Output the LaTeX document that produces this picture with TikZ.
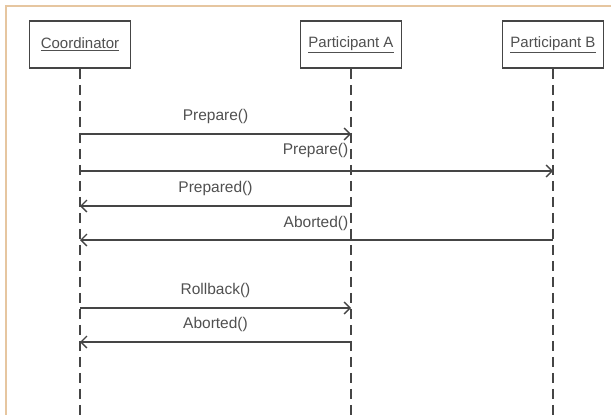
\documentclass[tikz,border=0pt]{standalone}
\usepackage{fontspec}
\setmainfont{Liberation Sans}
\usetikzlibrary{arrows.meta}
\definecolor{framecol}{HTML}{E6C6A0}
\definecolor{ink}{HTML}{454545}
\definecolor{txtcol}{HTML}{505050}
\begin{document}
\begin{tikzpicture}[x=1pt,y=-1pt,
  actor/.style={draw=ink,line width=1.5pt,fill=white,minimum width=101pt,minimum height=47pt,inner sep=0pt,text=txtcol,font=\fontsize{15}{17}\selectfont},
  life/.style={draw=ink,line width=1.6pt,dash pattern=on 10pt off 6pt},
  msg/.style={draw=ink,line width=1.3pt,-{Straight Barb[length=6pt,width=12pt,line width=1.3pt]}},
  lbl/.style={text=txtcol,font=\fontsize{15.5}{17}\selectfont,inner sep=0pt},
  framestyle/.style={draw=framecol,line width=1.6pt}]
\useasboundingbox (0,0) rectangle (611,415);
\draw[framestyle] (6,415) -- (6,6) -- (611,6);
% actors
\node[actor] (co) at (80,44.5) {\underline{Coordinator}};
\node[actor] (pa) at (351,44.5) {\underline{Participant A}};
\node[actor] (pb) at (553,44.5) {\underline{Participant B}};
% lifeline ends
\coordinate (coE) at (80,415);
\coordinate (paE) at (351,415);
\coordinate (pbE) at (553,415);
\draw[life] (co.south) -- (coE);
\draw[life] (pa.south) -- (paE);
\draw[life] (pb.south) -- (pbE);
% message endpoints
\coordinate (c1) at (80,134); \coordinate (a1) at (351,134);
\coordinate (c2) at (80,171); \coordinate (b2) at (553,171);
\coordinate (c3) at (80,206); \coordinate (a3) at (351,206);
\coordinate (c4) at (80,240); \coordinate (b4) at (553,240);
\coordinate (c5) at (80,308); \coordinate (a5) at (351,308);
\coordinate (c6) at (80,342); \coordinate (a6) at (351,342);
\draw[msg] (c1) -- (a1);
\draw[msg] (c2) -- (b2);
\draw[msg] (a3) -- (c3);
\draw[msg] (b4) -- (c4);
\draw[msg] (c5) -- (a5);
\draw[msg] (a6) -- (c6);
% labels
\node[lbl] (l1) at (215.5,116) {Prepare()};
\node[lbl,anchor=east] (l2) at (348.5,150) {Prepare()};
\node[lbl] (l3) at (215.5,188) {Prepared()};
\node[lbl,anchor=east] (l4) at (348.5,223) {Aborted()};
\node[lbl] (l5) at (215.5,290) {Rollback()};
\node[lbl] (l6) at (215.5,324) {Aborted()};
\end{tikzpicture}
\end{document}
